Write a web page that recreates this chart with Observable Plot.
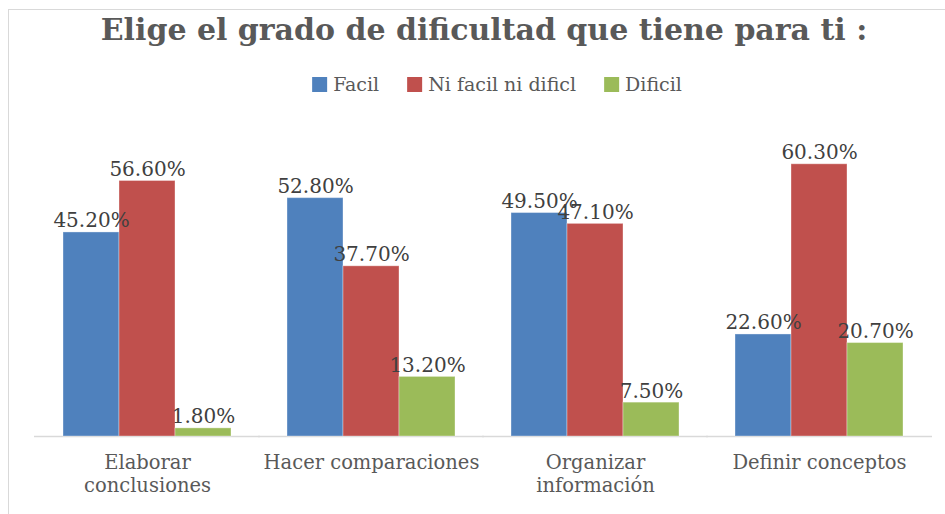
<!DOCTYPE html>
<html>
<head>
<meta charset="utf-8">
<script src="https://cdn.jsdelivr.net/npm/d3@7"></script>
<script src="https://cdn.jsdelivr.net/npm/@observablehq/plot@0.6"></script>
<style>
  html, body { margin: 0; padding: 0; background: #fff; }
  body { width: 945px; height: 514px; position: relative; overflow: hidden; font-family: "DejaVu Serif", serif; }
  #frame { position: absolute; left: 8px; top: 9px; width: 960px; height: 540px; border: 1px solid #d9d9d9; box-sizing: border-box; }
  #title { position: absolute; top: 12px; left: 484px; transform: translateX(-50%); white-space: nowrap;
           font-family: "DejaVu Serif", serif; font-weight: bold; font-size: 30px; color: #595959; }
  #legend { position: absolute; top: 73px; left: 497px; transform: translateX(-50%); white-space: nowrap;
            display: flex; align-items: center; font-size: 19px; color: #595959; }
  #legend .item { display: flex; align-items: center; margin: 0 14px; }
  #legend .sw { width: 15px; height: 15px; margin-right: 6px; }
  #chart { position: absolute; left: 0; top: 100px; }
</style>
</head>
<body>
<div id="frame"></div>
<div id="title"></div>
<div id="legend"></div>
<div id="chart"></div>
<script>
const title = "Elige el grado de dificultad que tiene para ti :";
const categories = ["Elaborar conclusiones", "Hacer comparaciones", "Organizar información", "Definir conceptos"];
const tickLabels = ["Elaborar\nconclusiones", "Hacer comparaciones", "Organizar\ninformación", "Definir conceptos"];
const series = ["Facil", "Ni facil ni dificl", "Dificil"];
const colors = ["#4f81bd", "#c0504d", "#9bbb59"];
const facil = [45.2, 52.8, 49.5, 22.6];
const niFacil = [56.6, 37.7, 47.1, 60.3];
const dificil = [1.8, 13.2, 7.5, 20.7];

const seriesValues = [facil, niFacil, dificil];
const data = [];
categories.forEach((c, i) => {
  series.forEach((s, j) => data.push({category: c, series: s, value: seriesValues[j][i]}));
});

document.getElementById("title").textContent = title;
const legend = document.getElementById("legend");
series.forEach((s, j) => {
  const it = document.createElement("div");
  it.className = "item";
  const sw = document.createElement("span");
  sw.className = "sw";
  sw.style.background = colors[j];
  const tx = document.createElement("span");
  tx.textContent = s;
  it.appendChild(sw); it.appendChild(tx);
  legend.appendChild(it);
});

const labelMap = new Map(categories.map((c, i) => [c, tickLabels[i]]));

const chart = Plot.plot({
  width: 945,
  height: 414,
  marginLeft: 33,
  marginRight: 13,
  marginTop: 20,
  marginBottom: 78,
  style: {fontFamily: "DejaVu Serif, serif", background: "transparent"},
  fx: {domain: categories, paddingInner: 0.25, paddingOuter: 0.125, label: null},
  x: {domain: series, padding: 0, axis: null},
  y: {domain: [0, 70], axis: null},
  color: {domain: series, range: colors},
  marks: [
    Plot.axisFx({anchor: "bottom", tickSize: 0, tickPadding: 17, fontSize: 19.5, fill: "#595959",
                 tickFormat: d => labelMap.get(d), label: null, lineHeight: 1.15}),
    Plot.ruleY([0], {stroke: "#d9d9d9", strokeWidth: 1.5, insetLeft: -29, insetRight: -29}),
    Plot.barY(data, {fx: "category", x: "series", y: "value", fill: "series", stroke: "#ffffff", strokeOpacity: 0.35, strokeWidth: 1}),
    Plot.text(data, {fx: "category", x: "series", y: "value", text: d => d.value.toFixed(2) + "%",
                     dy: -5, lineAnchor: "bottom", fontSize: 20, fill: "#404040"})
  ]
});
document.getElementById("chart").appendChild(chart);
</script>
</body>
</html>
